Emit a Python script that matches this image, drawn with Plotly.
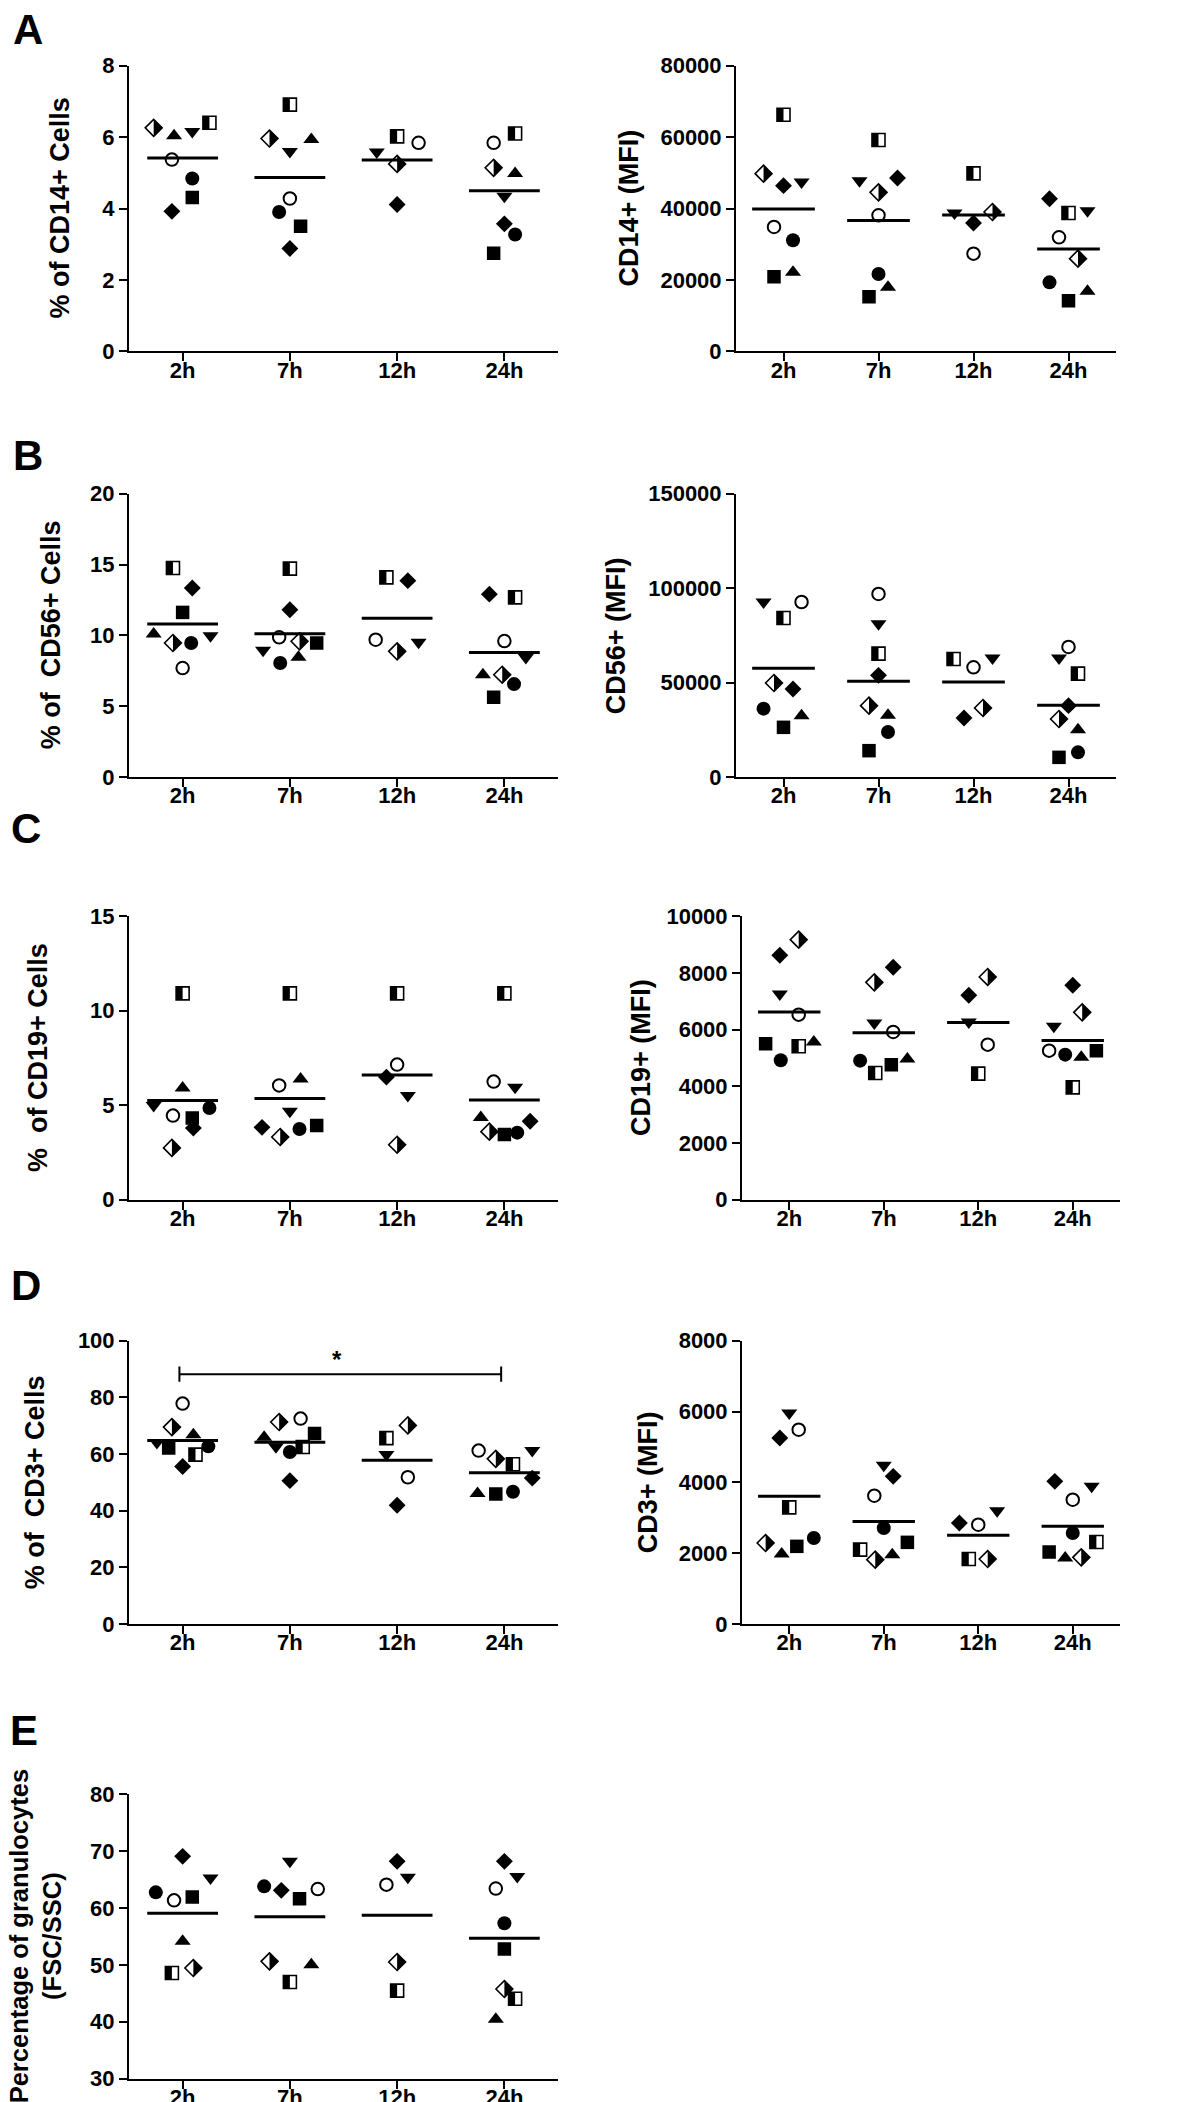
import numpy as np
import plotly.graph_objects as go

W, H = 1179, 2102
FONT = "Liberation Sans, Arial, sans-serif"
N = None

TIMES = ["2h", "7h", "12h", "24h"]
# subjects (row order): filled circle, open circle, filled square, half-filled square,
# filled triangle-up, filled triangle-down, filled diamond, half-filled diamond
SUBJECTS = ["S1", "S2", "S3", "S4", "S5", "S6", "S7", "S8"]

CD14_PCT = [
    [4.84, 3.90, N, 3.27],
    [5.37, 4.28, 5.84, 5.84],
    [4.31, 3.50, N, 2.75],
    [6.40, 6.91, 6.02, 6.10],
    [6.04, 5.93, N, 4.98],
    [6.16, 5.60, 5.58, 4.34],
    [3.92, 2.88, 4.11, 3.57],
    [6.26, 5.96, 5.25, 5.14],
]
CD14_MFI = [
    [31090, 21660, N, 19320],
    [34820, 38090, 27350, 31930],
    [20910, 15310, N, 14190],
    [66280, 59180, 49850, 38740],
    [22120, 17920, N, 16800],
    [47400, 47800, 38740, 39390],
    [46400, 48540, 35940, 42750],
    [49760, 44530, 39020, 25950],
]
CD56_PCT = [
    [9.46, 8.05, N, 6.56],
    [7.69, 9.86, 9.69, 9.60],
    [11.62, 9.46, N, 5.63],
    [14.75, 14.71, 14.09, 12.68],
    [10.09, 8.45, N, 7.22],
    [9.98, 8.94, 9.51, 8.44],
    [13.34, 11.81, 13.86, 12.91],
    [9.46, 9.58, 8.87, 7.22],
]
CD56_MFI = [
    [36180, 23830, N, 13060],
    [92660, 96900, 58070, 68840],
    [26300, 13940, N, 10410],
    [84190, 65300, 62480, 54720],
    [32480, 32650, N, 25060],
    [92660, 81190, 63010, 63010],
    [46600, 53830, 31240, 37770],
    [49770, 37770, 36540, 30710],
]
CD19_PCT = [
    [4.85, 3.74, N, 3.55],
    [4.45, 6.05, 7.15, 6.25],
    [4.32, 3.93, N, 3.45],
    [10.92, 10.92, 10.92, 10.92],
    [5.91, 6.39, N, 4.35],
    [4.99, 4.68, 5.52, 5.95],
    [3.79, 3.83, 6.49, 4.15],
    [2.74, 3.32, 2.91, 3.60],
]
CD19_MFI = [
    [4918, 4906, N, 5118],
    [6530, 5918, 5471, 5259],
    [5506, 4765, N, 5259],
    [5412, 4471, 4447, 3965],
    [5565, 4965, N, 5024],
    [7260, 6235, 6270, 6118],
    [8624, 8200, 7212, 7565],
    [9176, 7670, 7859, 6612],
]
CD3_PCT = [
    [62.7, 60.7, N, 46.7],
    [77.8, 72.5, 51.8, 61.2],
    [62.1, 67.2, N, 45.9],
    [59.8, 62.5, 65.6, 56.4],
    [66.8, 65.9, N, 46.1],
    [64.1, 62.6, 59.8, 61.2],
    [55.6, 50.6, 41.9, 51.5],
    [69.5, 71.3, 70.1, 58.3],
]
CD3_MFI = [
    [2428, 2711, N, 2569],
    [5487, 3624, 2805, 3511],
    [2193, 2306, N, 2033],
    [3294, 2099, 1835, 2315],
    [1977, 1958, N, 1864],
    [5958, 4480, 3200, 3887],
    [5252, 4170, 2852, 4028],
    [2287, 1817, 1835, 1882],
]
GRAN_PCT = [
    [62.73, 63.78, N, 57.3],
    [61.32, 63.31, 64.08, 63.4],
    [61.91, 61.62, N, 52.8],
    [48.56, 46.98, 45.46, 44.05],
    [54.12, 50.02, N, 40.45],
    [65.25, 68.17, 65.36, 65.5],
    [69.05, 63.08, 68.17, 68.17],
    [49.44, 50.61, 50.49, 45.75],
]

# horizontal scatter offsets (category units) of each dot, as laid out in the figure
JIT_CD14_PCT = [
    [0.09, -0.10, 0, 0.10], [-0.10, 0.00, 0.20, -0.10], [0.09, 0.10, 0, -0.10],
    [0.25, 0.00, 0.00, 0.10], [-0.08, 0.20, 0, 0.10], [0.09, 0.00, -0.19, 0.00],
    [-0.10, 0.00, 0.00, 0.00], [-0.27, -0.19, 0.00, -0.10],
]
JIT_CD14_MFI = [
    [0.10, 0.00, 0, -0.20], [-0.10, 0.00, 0.00, -0.10], [-0.10, -0.10, 0, 0.00],
    [0.00, 0.00, 0.00, 0.00], [0.10, 0.10, 0, 0.20], [0.19, -0.20, -0.20, 0.20],
    [0.00, 0.20, 0.00, -0.20], [-0.21, 0.00, 0.20, 0.10],
]
JIT_CD56_PCT = [
    [0.08, -0.09, 0, 0.09], [0.00, -0.10, -0.20, 0.00], [0.00, 0.25, 0, -0.10],
    [-0.09, 0.00, -0.10, 0.10], [-0.27, 0.08, 0, -0.20], [0.26, -0.25, 0.20, 0.20],
    [0.09, 0.00, 0.10, -0.14], [-0.09, 0.09, 0.00, -0.02],
]
JIT_CD56_MFI = [
    [-0.21, 0.10, 0, 0.10], [0.19, 0.00, 0.00, 0.00], [0.00, -0.10, 0, -0.10],
    [0.00, 0.00, -0.21, 0.10], [0.19, 0.10, 0, 0.10], [-0.21, 0.00, 0.20, -0.10],
    [0.10, 0.00, -0.10, 0.00], [-0.10, -0.10, 0.10, -0.10],
]
JIT_CD19_PCT = [
    [0.25, 0.09, 0, 0.12], [-0.09, -0.10, 0.00, -0.10], [0.09, 0.25, 0, 0.00],
    [0.00, 0.00, 0.00, 0.00], [0.00, 0.10, 0, -0.22], [-0.27, 0.00, 0.10, 0.10],
    [0.10, -0.26, -0.10, 0.24], [-0.10, -0.09, 0.00, -0.14],
]
JIT_CD19_MFI = [
    [-0.09, -0.25, 0, -0.08], [0.10, 0.10, 0.10, -0.25], [-0.25, 0.08, 0, 0.25],
    [0.10, -0.09, 0.00, 0.00], [0.26, 0.25, 0, 0.09], [-0.10, -0.10, -0.10, -0.20],
    [-0.10, 0.10, -0.10, 0.00], [0.10, -0.10, 0.10, 0.10],
]
JIT_CD3_PCT = [
    [0.24, 0.00, 0, 0.08], [0.00, 0.10, 0.10, -0.24], [-0.13, 0.23, 0, -0.08],
    [0.12, 0.12, -0.10, 0.08], [0.10, -0.24, 0, -0.25], [-0.24, -0.13, -0.10, 0.26],
    [0.00, 0.00, 0.00, 0.26], [-0.10, -0.10, 0.10, -0.08],
]
JIT_CD3_MFI = [
    [0.26, 0.00, 0, 0.00], [0.10, -0.10, 0.00, 0.00], [0.08, 0.25, 0, -0.25],
    [0.00, -0.25, -0.10, 0.25], [-0.08, 0.09, 0, -0.08], [0.00, 0.00, 0.20, 0.20],
    [-0.10, 0.10, -0.20, -0.19], [-0.25, -0.09, 0.10, 0.09],
]
JIT_GRAN_PCT = [
    [-0.25, -0.24, 0, 0.00], [-0.08, 0.26, -0.10, -0.08], [0.09, 0.09, 0, 0.00],
    [-0.10, 0.00, 0.00, 0.10], [0.00, 0.20, 0, -0.08], [0.26, 0.00, 0.10, 0.12],
    [0.00, -0.08, 0.00, 0.00], [0.10, -0.19, 0.00, 0.00],
]

# significance bracket in panel D (2h vs 24h)
SIG_FROM, SIG_TO, SIG_LABEL = 0, 3, "*"

# ---------------------------------------------------------------- layout geometry (px)
PANELS = [
    dict(v=CD14_PCT, j=JIT_CD14_PCT, t="% of CD14+ Cells", r=[0, 8], d=2,
         xd=(121, 550), yd=(57.7, 343.3), tx=52, fs=27),
    dict(v=CD14_MFI, j=JIT_CD14_MFI, t="CD14+ (MFI)", r=[0, 80000], d=20000,
         xd=(728, 1108), yd=(57.7, 343.3), tx=621, fs=27),
    dict(v=CD56_PCT, j=JIT_CD56_PCT, t="% of\u00a0 CD56+ Cells", r=[0, 20], d=5,
         xd=(121, 550), yd=(485.7, 769), tx=43, fs=27),
    dict(v=CD56_MFI, j=JIT_CD56_MFI, t="CD56+ (MFI)", r=[0, 150000], d=50000,
         xd=(728, 1108), yd=(485.7, 769), tx=608, fs=27),
    dict(v=CD19_PCT, j=JIT_CD19_PCT, t="%\u00a0 of CD19+ Cells", r=[0, 15], d=5,
         xd=(121, 550), yd=(908.3, 1191.7), tx=30, fs=27),
    dict(v=CD19_MFI, j=JIT_CD19_MFI, t="CD19+ (MFI)", r=[0, 10000], d=2000,
         xd=(734, 1112), yd=(908.3, 1191.7), tx=633, fs=27),
    dict(v=CD3_PCT, j=JIT_CD3_PCT, t="% of\u00a0 CD3+ Cells", r=[0, 100], d=20,
         xd=(121, 550), yd=(1332.7, 1616), tx=27, fs=27),
    dict(v=CD3_MFI, j=JIT_CD3_MFI, t="CD3+ (MFI)", r=[0, 8000], d=2000,
         xd=(734, 1112), yd=(1332.7, 1616), tx=640, fs=27),
    dict(v=GRAN_PCT, j=JIT_GRAN_PCT, t="Percentage of granulocytes<br>(FSC/SSC)", r=[30, 80], d=10,
         xd=(121, 550), yd=(1786, 2070.7), tx=27, fs=25.5),
]
LETTERS = [("A", 20, 22), ("B", 20, 447), ("C", 18, 820), ("D", 18, 1277), ("E", 16, 1722)]

SQ = 13.0        # square marker size (px)
DM = 13.0        # diamond marker size (px)
MEAN_HALF = 0.33

STYLE = [
    dict(symbol="circle", size=14, color="black", line=dict(width=0)),
    dict(symbol="circle", size=12.5, color="white", line=dict(width=2, color="black")),
    dict(symbol="square", size=13.5, color="black", line=dict(width=0)),
    dict(symbol="square", size=SQ, color="white", line=dict(width=1.6, color="black")),
    dict(symbol="triangle-up", size=14, color="black", line=dict(width=0)),
    dict(symbol="triangle-down", size=14, color="black", line=dict(width=0)),
    dict(symbol="diamond", size=DM, color="black", line=dict(width=0)),
    dict(symbol="diamond", size=DM, color="white", line=dict(width=1.6, color="black")),
]

fig = go.Figure()
annotations = []


def axname(k):
    return ("x", "y") if k == 1 else (f"x{k}", f"y{k}")


def half_fill(xs, ys, pxu, pyu, kind):
    """Black half of a half-filled marker, as a polygon around each data point."""
    px, py = [], []
    for x, y in zip(xs, ys):
        if kind == "square":
            R = SQ / 2
            dx, dy = R / pxu, R / pyu
            px += [x - dx, x, x, x - dx, x - dx, None]
            py += [y - dy, y - dy, y + dy, y + dy, y - dy, None]
        else:
            R = 0.65 * DM
            dx, dy = R / pxu, R / pyu
            px += [x, x + dx, x, x, None]
            py += [y + dy, y, y - dy, y + dy, None]
    return px, py


for k, p in enumerate(PANELS, start=1):
    xa, ya = axname(k)
    vals, jit = p["v"], p["j"]
    pxu = (p["xd"][1] - p["xd"][0]) / 4.0                       # px per category unit
    pyu = (p["yd"][1] - p["yd"][0]) / (p["r"][1] - p["r"][0])   # px per y unit
    for s in range(len(SUBJECTS)):
        xs, ys = [], []
        for t in range(len(TIMES)):
            if vals[s][t] is not None:
                xs.append(t + jit[s][t])
                ys.append(vals[s][t])
        fig.add_trace(go.Scatter(x=xs, y=ys, mode="markers", marker=STYLE[s],
                                 xaxis=xa, yaxis=ya, hoverinfo="skip"))
        if s in (3, 7):
            hx, hy = half_fill(xs, ys, pxu, pyu, "square" if s == 3 else "diamond")
            fig.add_trace(go.Scatter(x=hx, y=hy, mode="lines", fill="toself",
                                     fillcolor="black", line=dict(width=0, color="black"),
                                     xaxis=xa, yaxis=ya, hoverinfo="skip"))
    # mean lines
    arr = np.array([[np.nan if v is None else v for v in row] for row in vals], dtype=float)
    means = np.nanmean(arr, axis=0)
    mx, my = [], []
    for t, m in enumerate(means):
        mx += [t - MEAN_HALF, t + MEAN_HALF, None]
        my += [m, m, None]
    fig.add_trace(go.Scatter(x=mx, y=my, mode="lines", line=dict(color="black", width=3),
                             xaxis=xa, yaxis=ya, hoverinfo="skip"))

    axis_common = dict(showline=True, linecolor="black", linewidth=2, ticks="outside",
                       ticklen=8, tickwidth=2, tickcolor="black", showgrid=False,
                       zeroline=False, automargin=False, fixedrange=True,
                       tickfont=dict(family=FONT, size=22, color="black", weight="bold"))
    xkey = "xaxis" if k == 1 else f"xaxis{k}"
    ykey = "yaxis" if k == 1 else f"yaxis{k}"
    fig.layout[xkey] = dict(domain=[p["xd"][0] / W, p["xd"][1] / W], anchor=ya,
                            range=[-0.5, 3.5], tickvals=list(range(len(TIMES))),
                            ticktext=TIMES, ticklabelstandoff=-10, **axis_common)
    fig.layout[ykey] = dict(domain=[1 - p["yd"][1] / H, 1 - p["yd"][0] / H], anchor=xa,
                            range=p["r"], dtick=p["d"], tick0=p["r"][0], tickformat="d",
                            **axis_common)
    annotations.append(dict(text=p["t"], xref="paper", yref="paper",
                            x=p["tx"] / W, y=1 - (p["yd"][0] + p["yd"][1]) / 2 / H,
                            xanchor="center", yanchor="middle", textangle=-90, showarrow=False,
                            font=dict(family=FONT, size=p["fs"], color="black", weight="bold")))

    if k == 7:  # significance bracket
        lo, hi = p["r"]
        yb = lo + 0.882 * (hi - lo)
        cap = 0.027 * (hi - lo)
        a, b = SIG_FROM - 0.03, SIG_TO - 0.03
        fig.add_trace(go.Scatter(x=[a, a, None, a, b, None, b, b],
                                 y=[yb - cap, yb + cap, None, yb, yb, None, yb - cap, yb + cap],
                                 mode="lines", line=dict(color="black", width=2),
                                 xaxis=xa, yaxis=ya, hoverinfo="skip"))
        annotations.append(dict(text=SIG_LABEL, xref=xa, yref=ya,
                                x=(SIG_FROM + SIG_TO) / 2 - 0.06, y=yb + 0.05 * (hi - lo),
                                showarrow=False, yanchor="middle",
                                font=dict(family=FONT, size=24, color="black", weight="bold")))

for letter, lx, ly in LETTERS:
    annotations.append(dict(text=letter, xref="paper", yref="paper", x=lx / W, y=1 - ly / H,
                            xanchor="center", yanchor="middle", showarrow=False,
                            font=dict(family=FONT, size=42, color="black", weight="bold")))

fig.update_layout(width=W, height=H, margin=dict(l=0, r=0, t=0, b=0),
                  paper_bgcolor="white", plot_bgcolor="white", showlegend=False,
                  annotations=annotations)

fig.write_html("out.html")
